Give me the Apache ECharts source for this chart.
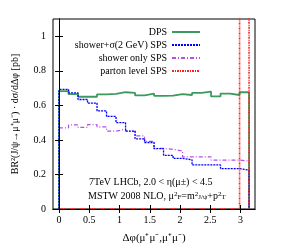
<!DOCTYPE html>
<html><head><meta charset="utf-8">
<script src="https://cdn.jsdelivr.net/npm/echarts@6/dist/echarts.min.js"></script>
<style>html,body{margin:0;padding:0;background:#fff}#c{width:285px;height:249px}</style>
</head><body><div id="c"></div>
<script>
// Bin edges (Δφ, 20 bins from 0 to π)
const binEdges = [0, 0.157, 0.314, 0.471, 0.628, 0.785, 0.942, 1.100, 1.257, 1.414, 1.571,
                  1.728, 1.885, 2.042, 2.199, 2.356, 2.513, 2.670, 2.827, 2.985, 3.142];
const seriesNames = ['DPS', 'shower+σ(2 GeV) SPS', 'shower only SPS', 'parton level SPS'];
const dps = [0.683,0.665,0.650,0.650,0.664,0.666,0.676,0.672,0.658,0.668,0.655,0.656,0.665,0.660,0.672,0.680,0.652,0.668,0.660,0.676];
const showerSigma = [0.692,0.672,0.634,0.613,0.568,0.536,0.500,0.451,0.406,0.385,0.349,0.311,0.293,0.285,0.255,0.255,0.255,0.234,0.234,0.225];
const showerOnly = [0.470,0.487,0.472,0.488,0.475,0.451,0.462,0.450,0.423,0.392,0.351,0.345,0.336,0.302,0.302,0.302,0.283,0.283,0.283,0.278];
const parton = [0,0,0,0,0,0,0,0,0,0,0,0,0,0,0,0,0,0,0,5.0];
const xTicks = [0, 0.5, 1, 1.5, 2, 2.5, 3];
const yTicks = [0, 0.2, 0.4, 0.6, 0.8, 1];

function hist(vals) {
  const pts = [[binEdges[0], 0]];
  for (let i = 0; i < vals.length; i++) {
    pts.push([binEdges[i], vals[i]]);
    pts.push([binEdges[i + 1], vals[i]]);
  }
  pts.push([binEdges[binEdges.length - 1], 0]);
  return pts;
}
const FONT = 'Liberation Serif';
const chart = echarts.init(document.getElementById('c'), null, {renderer: 'canvas'});
const mk = (name, vals, color, type, width, z) => ({
  name, type: 'line', data: hist(vals), symbol: 'none', showSymbol: false,
  lineStyle: {color, type, width}, itemStyle: {color}, z, animation: false, clip: true
});
const axisZ = 20;
chart.setOption({
  animation: false,
  backgroundColor: '#fff',
  grid: {left: 53, right: 30, top: 19, bottom: 35, show: true, borderColor: '#000', borderWidth: 1},
  legend: {
    orient: 'vertical', right: 79, top: 22, align: 'right', itemWidth: 28, itemHeight: 8, itemGap: 3,
    textStyle: {fontFamily: FONT, fontSize: 10, color: '#000'},
    itemStyle: {color: 'rgba(0,0,0,0)', borderWidth: 0},
    data: seriesNames
  },
  xAxis: [{
    type: 'value', min: -0.1, max: 3.24, position: 'bottom', z: axisZ,
    name: 'Δφ(μ⁺μ⁻,μ⁺μ⁻)', nameLocation: 'middle', nameGap: 24,
    nameTextStyle: {fontFamily: FONT, fontSize: 11, color: '#000'},
    axisLine: {lineStyle: {color: '#000'}},
    axisTick: {inside: true, length: 4, customValues: xTicks, lineStyle: {color: '#000'}},
    axisLabel: {customValues: xTicks, fontFamily: FONT, fontSize: 10, color: '#000', margin: 6},
    splitLine: {show: false}
  }, {
    type: 'value', min: -0.1, max: 3.24, position: 'top', z: axisZ,
    axisLine: {lineStyle: {color: '#000'}},
    axisTick: {inside: true, length: 4, customValues: xTicks, lineStyle: {color: '#000'}},
    axisLabel: {show: false}, splitLine: {show: false}
  }],
  yAxis: [{
    type: 'value', min: 0, max: 1.1, position: 'left', z: axisZ,
    name: 'BR²(J/ψ→μ⁺μ⁻) · dσ/dΔφ [pb]', nameLocation: 'middle', nameGap: 33,
    nameTextStyle: {fontFamily: FONT, fontSize: 10, color: '#000'},
    axisLine: {lineStyle: {color: '#000'}},
    axisTick: {inside: true, length: 4, customValues: yTicks, lineStyle: {color: '#000'}},
    axisLabel: {customValues: yTicks, fontFamily: FONT, fontSize: 10, color: '#000', margin: 7},
    splitLine: {show: false}
  }, {
    type: 'value', min: 0, max: 1.1, position: 'right', z: axisZ,
    axisLine: {lineStyle: {color: '#000'}},
    axisTick: {inside: true, length: 4, customValues: yTicks, lineStyle: {color: '#000'}},
    axisLabel: {show: false}, splitLine: {show: false}
  }],
  series: [
    mk(seriesNames[2], showerOnly, '#b84ce8', [4, 2, 1, 2], 1.2, 2),
    mk(seriesNames[0], dps, '#3d9a5e', 'solid', 1.8, 3),
    mk(seriesNames[1], showerSigma, '#0000ff', [2, 1], 1.3, 4),
    mk(seriesNames[3], parton, '#ff2020', [2, 1, 1, 1], 1.6, 5)
  ],
  graphic: [
    {type: 'text', left: 89, top: 177, style: {text: '7TeV LHCb, 2.0 < η(μ±) < 4.5', font: '10px "Liberation Serif"', fill: '#000'}},
    {type: 'text', left: 88, top: 191, style: {
      text: 'MSTW 2008 NLO, μ{sup|2}{sub|F}=m{sup|2}{sub|J/ψ}+p{sup|2}{sub|T}',
      rich: {sup: {fontSize: 7, verticalAlign: 'top', fontFamily: FONT}, sub: {fontSize: 7, verticalAlign: 'bottom', fontFamily: FONT}},
      font: '10px "Liberation Serif"', fill: '#000'}}
  ]
});
</script></body></html>
